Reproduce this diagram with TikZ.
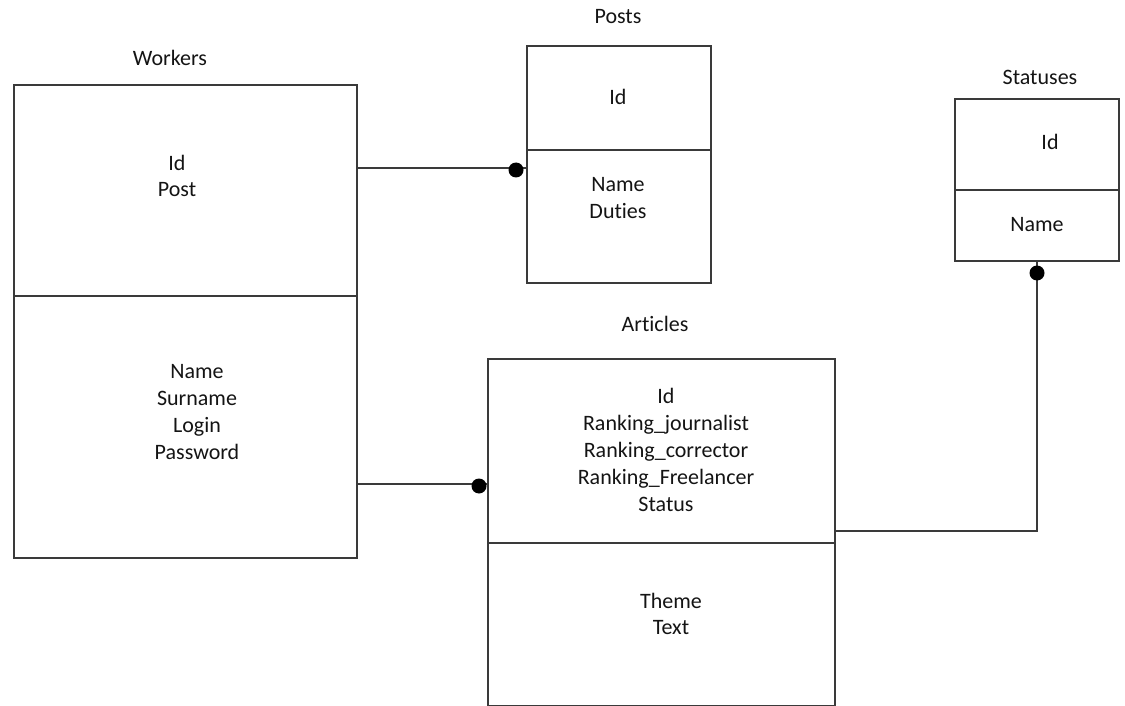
\documentclass[tikz,border=0pt]{standalone}
\usepackage{fontspec}
\setmainfont{Carlito}[Ligatures=NoCommon]
\definecolor{linec}{HTML}{3A3A3A}
\definecolor{txtc}{HTML}{141414}
\begin{document}
\begin{tikzpicture}[x=1pt,y=-1pt,
  cell/.style={draw=linec, line width=1.8pt, rectangle, anchor=north west, inner sep=0pt},
  txt/.style={text=txtc, align=center, inner sep=0pt, font=\fontsize{22}{26.8}\selectfont},
  link/.style={draw=linec, line width=1.8pt},
  dot/.style={circle, fill=black, inner sep=0pt, minimum size=15pt}]
\useasboundingbox (0,0) rectangle (1125,706);

% Workers
\node[txt] (wlab) at (170,58) {Workers};
\node[cell, minimum width=343pt, minimum height=211pt] (wtop) at (13,84) {};
\node[cell, minimum width=343pt, minimum height=262pt] (wbot) at (13,295) {};
\node[txt] (wt1) at (177,176) {Id\\Post};
\node[txt] (wt2) at (197,412) {Name\\Surname\\Login\\Password};

% Posts
\node[txt] (plab) at (618,17) {Posts};
\node[cell, minimum width=184pt, minimum height=104pt] (ptop) at (526,45) {};
\node[cell, minimum width=184pt, minimum height=133pt] (pbot) at (526,149) {};
\node[txt] (pt1) at (618,97) {Id};
\node[txt] (pt2) at (618,198) {Name\\Duties};

% Statuses
\node[txt] (slab) at (1040,77) {Statuses};
\node[cell, minimum width=164pt, minimum height=91pt] (stop) at (954,98) {};
\node[cell, minimum width=164pt, minimum height=71pt] (sbot) at (954,189) {};
\node[txt] (st1) at (1050,142) {Id};
\node[txt] (st2) at (1037,225) {Name};

% Articles
\node[txt] (alab) at (655,324) {Articles};
\node[cell, minimum width=347pt, minimum height=184pt] (atop) at (487,358) {};
\node[cell, minimum width=347pt, minimum height=163pt] (abot) at (487,542) {};
\node[txt] (at1) at (666,450) {Id\\Ranking\_journalist\\Ranking\_corrector\\Ranking\_Freelancer\\Status};
\node[txt] (at2) at (671,614) {Theme\\Text};

% Relations
\draw[link] (wtop.east |- 0,168) -- (ptop.west |- 0,168);
\node[dot] (d1) at (516,170) {};
\draw[link] (wbot.east |- 0,484) -- (atop.west |- 0,484);
\node[dot] (d2) at (479,486) {};
\coordinate (bend) at (1037,531);
\draw[link] (atop.east |- bend) -- (bend) -- (bend |- sbot.south);
\node[dot] (d3) at (1037,273) {};
\end{tikzpicture}
\end{document}
